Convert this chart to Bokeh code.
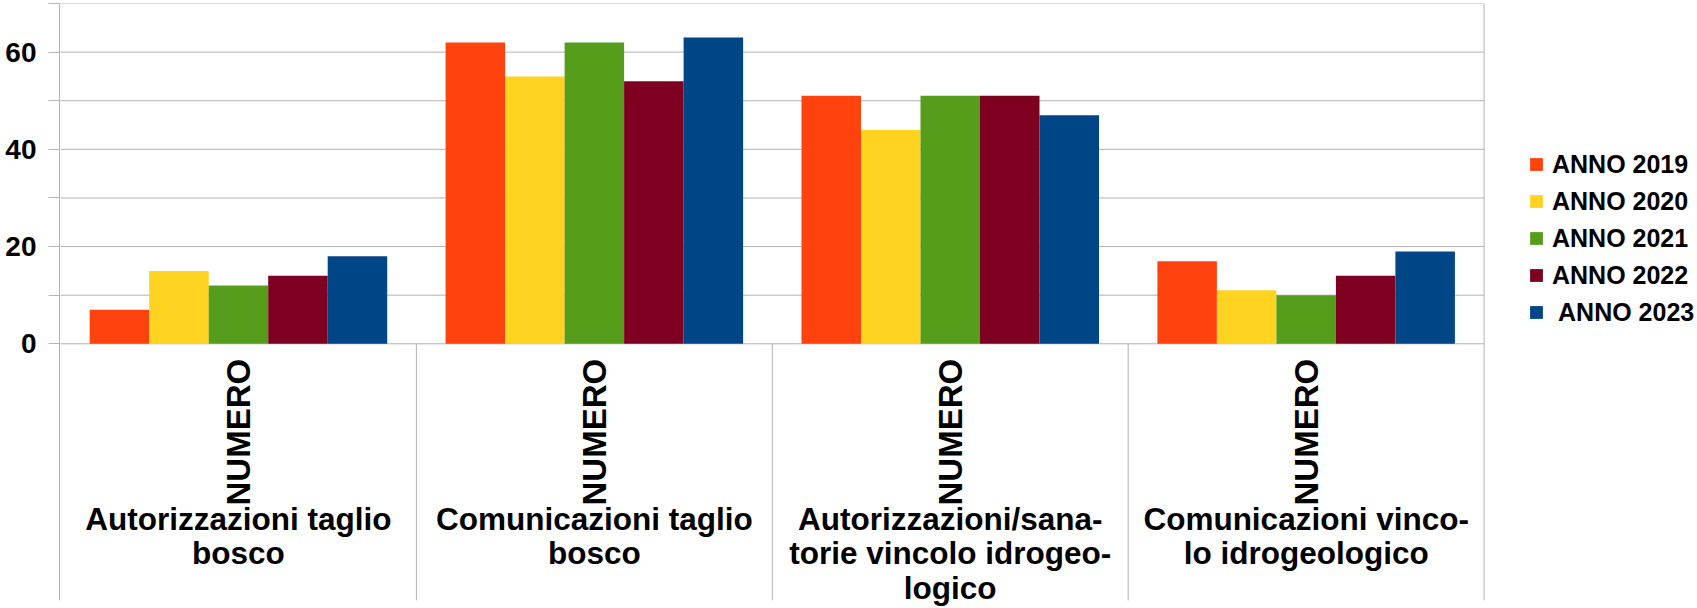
import numpy as np
from bokeh.plotting import figure
from bokeh.models import (FixedTicker, Legend, LegendItem,
                          ColumnDataSource, Range1d)
from bokeh.core.properties import value
from bokeh.embed import file_html
from bokeh.resources import INLINE

# ---------------- data ----------------
categories = [
    "Autorizzazioni taglio bosco",
    "Comunicazioni taglio bosco",
    "Autorizzazioni/sanatorie vincolo idrogeologico",
    "Comunicazioni vincolo idrogeologico",
]
category_labels = [
    "Autorizzazioni taglio\nbosco",
    "Comunicazioni taglio\nbosco",
    "Autorizzazioni/sana-\ntorie vincolo idrogeo-\nlogico",
    "Comunicazioni vinco-\nlo idrogeologico",
]
sub_label = "NUMERO"
series_names = ["ANNO 2019", "ANNO 2020", "ANNO 2021", "ANNO 2022", " ANNO 2023"]
anno_2019 = [7, 62, 51, 17]
anno_2020 = [15, 55, 44, 11]
anno_2021 = [12, 62, 51, 10]
anno_2022 = [14, 54, 51, 14]
anno_2023 = [18, 63, 47, 19]
series_values = [anno_2019, anno_2020, anno_2021, anno_2022, anno_2023]
y_ticks = [0, 10, 20, 30, 40, 50, 60, 70]
y_tick_labels = ["0", "", "20", "", "40", "", "60", ""]

# ---------------- style / layout ----------------
colors = ["#FF420E", "#FFD320", "#579D1C", "#7E0021", "#004586"]
grid_color = "#b3b3b3"
FONT = "Liberation Sans"

W, H = 1697, 608
top_border = 3
left_border = 59
frame_h = H - top_border
zero_px = 340.3            # px from frame top to the 0 line
y_end = 70
ppu_y = zero_px / y_end
y_start = y_end - frame_h / ppu_y

axis_px = 60               # page x of category boundary 0
cat_px = 355.9             # pixel width of one category
x_start = -(axis_px - left_border) / cat_px
x_end = (W - axis_px) / cat_px
n_cat = len(categories)
cat_centers = [i + 0.5 for i in range(n_cat)]


def px_to_y(page_y):
    return -(page_y - top_border - zero_px) / ppu_y


sep_bottom = px_to_y(600)

p = figure(
    width=W, height=H,
    x_range=Range1d(x_start, x_end),
    y_range=Range1d(y_start, y_end),
    output_backend="svg", toolbar_location=None,
    min_border_left=left_border, min_border_right=0,
    min_border_top=top_border, min_border_bottom=0,
    x_axis_location=None,
)
p.outline_line_color = None
p.xgrid.visible = False
p.ygrid.visible = False
p.background_fill_color = "white"
p.border_fill_color = "white"

# y axis
ax = p.yaxis[0]
ax.ticker = FixedTicker(ticks=y_ticks, minor_ticks=[])
ax.major_label_overrides = {t: l for t, l in zip(y_ticks, y_tick_labels)}
ax.bounds = (sep_bottom, y_end)
ax.axis_line_color = grid_color
ax.major_tick_line_color = grid_color
ax.major_tick_in = 0
ax.major_tick_out = 11
ax.minor_tick_line_color = None
ax.major_label_standoff = 12
ax.major_label_text_font = FONT
ax.major_label_text_font_style = "bold"
ax.major_label_text_font_size = "28px"
ax.major_label_text_color = "black"

# horizontal grid lines across the category area only
p.segment(x0=[0] * len(y_ticks), x1=[n_cat] * len(y_ticks), y0=y_ticks, y1=y_ticks,
          line_color=grid_color, line_width=1)

# bars
n = len(series_names)
bar_w = 0.1672
offsets = [(i - (n - 1) / 2) * bar_w for i in range(n)]
renderers = []
for i in range(n):
    src = ColumnDataSource(dict(x=[c + offsets[i] for c in cat_centers],
                                top=series_values[i], cat=categories))
    r = p.vbar(x="x", top="top", bottom=0, width=bar_w, source=src,
               fill_color=colors[i], line_color=None)
    renderers.append(r)

# separators in the category label area + right border
sep_x = [1, 2, 3, 4]
sep_y1 = [0, 0, 0, y_end]
p.segment(x0=sep_x, x1=sep_x, y0=[sep_bottom] * 4, y1=sep_y1,
          line_color=grid_color, line_width=1)

# category sub-labels (rotated) and group labels
p.text(x=cat_centers, y=[px_to_y(505)] * n_cat, text=[sub_label] * n_cat,
       angle=np.pi / 2, text_align="left", text_baseline="middle",
       text_font=value(FONT), text_font_style="bold",
       text_font_size="33px", text_color="black")

p.text(x=cat_centers, y=[px_to_y(500)] * n_cat, text=category_labels,
       text_align="center", text_baseline="top", text_line_height=0.96,
       text_font=value(FONT), text_font_style="bold",
       text_font_size="31.5px", text_color="black")

# legend (inside the wide frame, to the right of the category area)
legend = Legend(
    items=[LegendItem(label=series_names[i], renderers=[renderers[i]]) for i in range(n)],
    location=(1528 - left_border, H - 327),
    orientation="vertical",
    glyph_width=16, glyph_height=16, label_standoff=8,
    label_height=30, spacing=7, padding=0, margin=0,
    border_line_color=None, background_fill_alpha=0,
    label_text_font=FONT, label_text_font_style="bold",
    label_text_font_size="25px", label_text_color="black",
)
p.add_layout(legend, "center")

open("out.html", "w").write(file_html(p, INLINE))
